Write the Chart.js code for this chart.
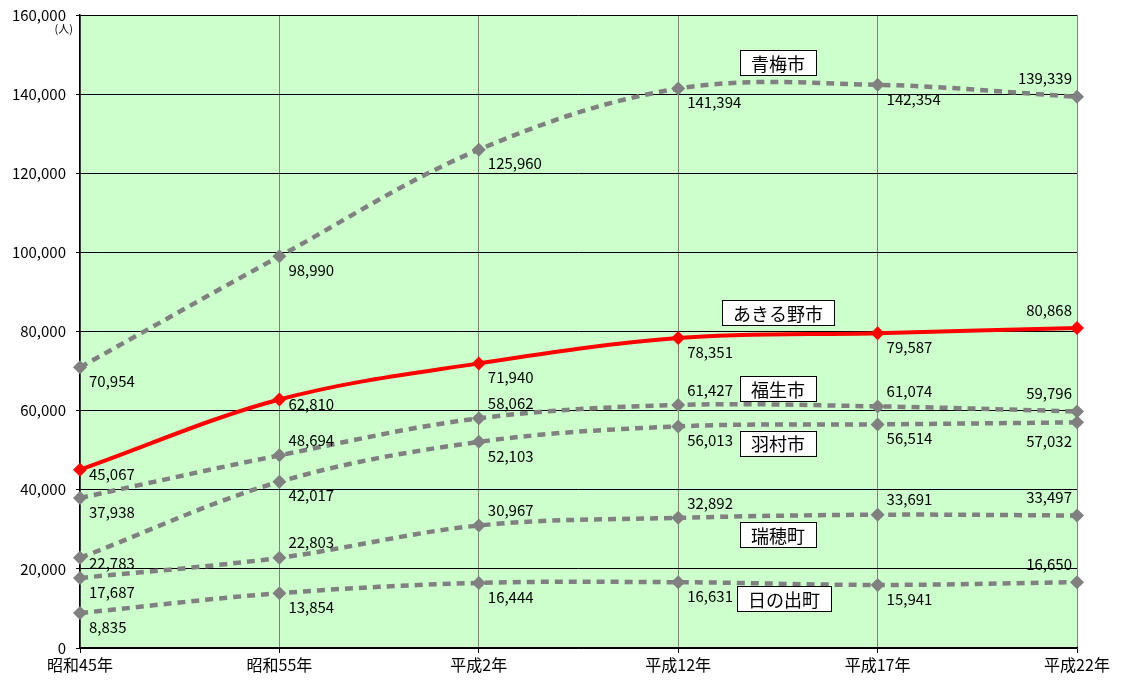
<!DOCTYPE html>
<html>
<head>
    <meta charset="utf-8">
    <title>人口推移</title>
    <script src="https://cdn.jsdelivr.net/npm/chart.js@4.4.0/dist/chart.umd.min.js"></script>
    <style>
        body { margin: 0; background: #fff; }
        #wrap { width: 1124px; height: 683px; }
    </style>
</head>
<body>
    <div id="wrap"><canvas id="myChart"></canvas></div>
    <script>
        // categories
        const years = ['昭和45年', '昭和55年', '平成2年', '平成12年', '平成17年', '平成22年'];
        const yTicks = [0, 20000, 40000, 60000, 80000, 100000, 120000, 140000, 160000];

        // series values (人)
        const ome = [70954, 98990, 125960, 141394, 142354, 139339];
        const akiruno = [45067, 62810, 71940, 78351, 79587, 80868];
        const fussa = [37938, 48694, 58062, 61427, 61074, 59796];
        const hamura = [22783, 42017, 52103, 56013, 56514, 57032];
        const mizuho = [17687, 22803, 30967, 32892, 33691, 33497];
        const hinode = [8835, 13854, 16444, 16631, 15941, 16650];

        // where each value label goes: a = above, b = below, r = beside
        const omePos = ['b', 'b', 'b', 'b', 'b', 'a'];
        const akirunoPos = ['r', 'r', 'b', 'b', 'b', 'a'];
        const fussaPos = ['b', 'a', 'a', 'a', 'a', 'a'];
        const hamuraPos = ['r', 'b', 'b', 'b', 'b', 'b'];
        const mizuhoPos = ['b', 'a', 'a', 'a', 'a', 'a'];
        const hinodePos = ['b', 'b', 'b', 'b', 'b', 'a'];

        // name box centre: x as category index, y in 人
        const nameX = [3.5, 3.5, 3.5, 3.5, 3.5, 3.53];
        const nameY = [147900, 84700, 65500, 51800, 28600, 12400];

        const GRAY = '#808080';
        const RED = '#ff0000';
        const FONT = '"Noto Sans CJK JP", "Noto Sans", sans-serif';

        function grayLine(name, data, pos, k) {
            return {
                label: name,
                data: data,
                labelPos: pos,
                nameX: nameX[k],
                nameY: nameY[k],
                borderColor: GRAY,
                backgroundColor: GRAY,
                borderWidth: 4.5,
                borderDash: [8, 6],
                pointStyle: 'rectRot',
                pointRadius: 7,
                pointBorderWidth: 0,
                tension: 0.35
            };
        }

        const datasets = [
            grayLine('青梅市', ome, omePos, 0),
            {
                label: 'あきる野市',
                data: akiruno,
                labelPos: akirunoPos,
                nameX: nameX[1],
                nameY: nameY[1],
                borderColor: RED,
                backgroundColor: RED,
                borderWidth: 4,
                pointStyle: 'rectRot',
                pointRadius: 7,
                pointBorderWidth: 0,
                tension: 0.35
            },
            grayLine('福生市', fussa, fussaPos, 2),
            grayLine('羽村市', hamura, hamuraPos, 3),
            grayLine('瑞穂町', mizuho, mizuhoPos, 4),
            grayLine('日の出町', hinode, hinodePos, 5)
        ];

        // green plot background
        const bgPlugin = {
            id: 'bg',
            beforeDraw(chart) {
                const a = chart.chartArea;
                const ctx = chart.ctx;
                ctx.save();
                ctx.fillStyle = '#ccffcc';
                ctx.fillRect(a.left, a.top, a.right - a.left, a.bottom - a.top);
                ctx.restore();
            },
            afterDraw(chart) {
                const ctx = chart.ctx;
                ctx.save();
                ctx.fillStyle = '#000';
                ctx.font = '11px ' + FONT;
                ctx.textAlign = 'right';
                ctx.textBaseline = 'middle';
                ctx.fillText('(人)', 73, 29);
                ctx.restore();
            }
        };

        // value labels + name boxes
        const labelPlugin = {
            id: 'labels',
            afterDatasetsDraw(chart) {
                const ctx = chart.ctx;
                const xs = chart.scales.x;
                const ys = chart.scales.y;
                ctx.save();
                ctx.fillStyle = '#000';
                ctx.textBaseline = 'middle';
                chart.data.datasets.forEach((ds, di) => {
                    const meta = chart.getDatasetMeta(di);
                    ctx.font = '15px ' + FONT;
                    meta.data.forEach((pt, i) => {
                        const txt = ds.data[i].toLocaleString('en-US');
                        const p = ds.labelPos[i];
                        const last = i === ds.data.length - 1;
                        let x, y;
                        if (last) {
                            ctx.textAlign = 'right';
                            x = pt.x - 5;
                            y = p === 'a' ? pt.y - 18 : pt.y + 19;
                        } else {
                            ctx.textAlign = 'left';
                            x = pt.x + 9;
                            y = p === 'a' ? pt.y - 15 : (p === 'b' ? pt.y + 14 : pt.y + 5);
                        }
                        ctx.fillText(txt, x, y);
                    });
                    // name box
                    const x3 = xs.getPixelForValue(3), x4 = xs.getPixelForValue(4);
                    const cx = x3 + (x4 - x3) * (ds.nameX - 3);
                    const cy = ys.getPixelForValue(ds.nameY);
                    ctx.font = '18px ' + FONT;
                    const w = ctx.measureText(ds.label).width + 22;
                    const h = 25;
                    ctx.fillStyle = '#fff';
                    ctx.fillRect(cx - w / 2, cy - h / 2, w, h);
                    ctx.strokeStyle = '#000';
                    ctx.lineWidth = 1;
                    ctx.strokeRect(Math.round(cx - w / 2) + 0.5, Math.round(cy - h / 2) + 0.5, Math.round(w), h);
                    ctx.fillStyle = '#000';
                    ctx.textAlign = 'center';
                    ctx.fillText(ds.label, cx, cy + 1);
                });
                ctx.restore();
            }
        };

        const config = {
            type: 'line',
            data: { labels: years, datasets: datasets },
            options: {
                responsive: true,
                maintainAspectRatio: false,
                animation: false,
                layout: { padding: { top: 15, right: 47, left: 0, bottom: 0 } },
                plugins: {
                    legend: { display: false },
                    tooltip: { enabled: false }
                },
                scales: {
                    x: {
                        offset: false,
                        grid: {
                            color: GRAY,
                            lineWidth: 1,
                            drawTicks: true,
                            tickLength: 5,
                            tickColor: '#000'
                        },
                        border: { color: '#000', width: 1.5 },
                        ticks: {
                            color: '#000',
                            font: { family: FONT, size: 16 },
                            maxRotation: 0,
                            padding: 2
                        },
                        afterFit(scale) { scale.height = 35; }
                    },
                    y: {
                        min: 0,
                        max: 160000,
                        afterBuildTicks(scale) {
                            scale.ticks = yTicks.map(v => ({ value: v }));
                        },
                        grid: {
                            color: '#000',
                            lineWidth: 1,
                            tickLength: 4
                        },
                        border: { color: '#000', width: 1.5 },
                        ticks: {
                            color: '#000',
                            font: { family: FONT, size: 15 },
                            padding: 10,
                            callback: v => v.toLocaleString('en-US')
                        },
                        afterFit(scale) {
                            scale.width = 80;
                            scale.paddingTop = 0;
                            scale.paddingBottom = 0;
                        }
                    }
                }
            },
            plugins: [bgPlugin, labelPlugin]
        };

        const myChart = new Chart(document.getElementById('myChart'), config);
    </script>
</body>
</html>
